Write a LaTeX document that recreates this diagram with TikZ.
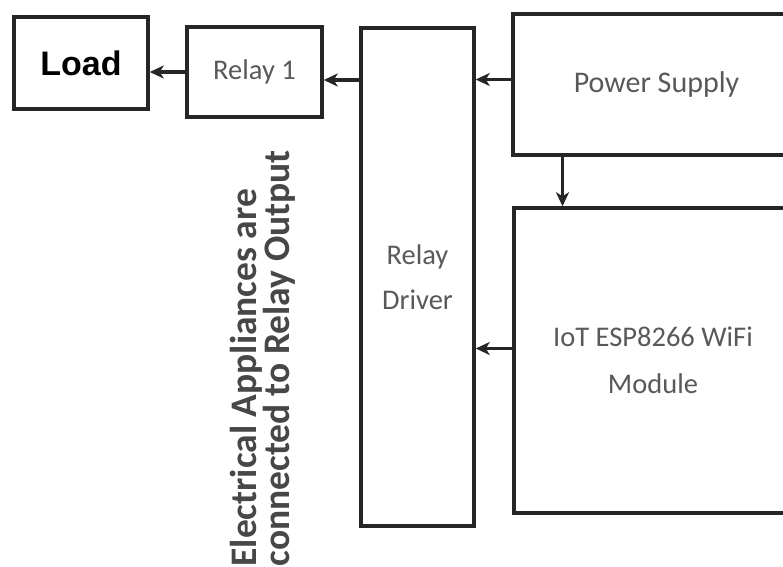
\documentclass[tikz,border=0pt]{standalone}
\usepackage{fontspec}
\setmainfont{Carlito}
\newfontfamily\loadfont{Liberation Sans}
\usetikzlibrary{arrows.meta, positioning}
\tikzset{
	block/.style={rectangle, draw=black!85, line width=3.5pt, fill=white,
		text=black!65, align=center, font=\fontsize{28.5}{45}\selectfont},
	myarrow/.style={-{Stealth[length=14pt, width=13pt, inset=4pt]}, line width=3.5pt, black!85},
	sidenote/.style={rotate=90, anchor=west, align=left, text=black!72,
		font=\bfseries\fontsize{37.5}{33}\selectfont}
}
\begin{document}
\begin{tikzpicture}[x=1pt, y=-1pt]
	\useasboundingbox (0,0) rectangle (783,566);
	
	%% blocks
	\node[block, minimum width=134pt, minimum height=92pt, text=black,
	font=\loadfont\bfseries\fontsize{34}{34}\selectfont]
	(load) at (81,63) {Load};
	\node[block, minimum width=135pt, minimum height=90pt,
	font=\fontsize{28.5}{28.5}\selectfont]
	(relay1) at (254.5,72) {Relay 1};
	\node[block, minimum width=113pt, minimum height=498pt]
	(driver) at (417.5,277) {Relay\\Driver};
	\node[block, minimum width=287pt, minimum height=141pt, font=\fontsize{30}{30}\selectfont]
	(power) at (656.5,84.5) {Power Supply};
	\node[block, minimum width=278pt, minimum height=305pt, font=\fontsize{28.5}{47}\selectfont]
	(iot) at (653,360.5) {IoT ESP8266 WiFi\\Module};
	
	%% note beside the relay
	\node[sidenote] (note) at (263,570)
	{Electrical Appliances are\\connected to Relay Output};
	
	%% connectors
	\draw[myarrow] (relay1.west) -- (relay1.west -| load.east);
	\draw[myarrow] ([yshift=-8pt]relay1.east -| driver.west) -- ([yshift=-8pt]relay1.east);
	\draw[myarrow] ([yshift=5pt]power.west) -- ([yshift=5pt]power.west -| driver.east);
	\draw[myarrow] ([yshift=12pt]iot.west) -- ([yshift=12pt]iot.west -| driver.east);
	\draw[myarrow] ([xshift=-94pt]power.south) -- ([xshift=-94pt]power.south |- iot.north);
	
\end{tikzpicture}
\end{document}
